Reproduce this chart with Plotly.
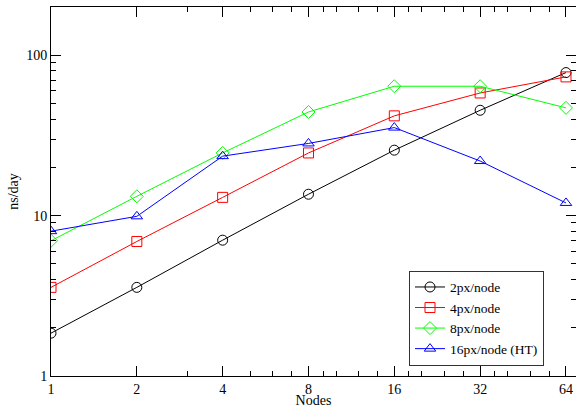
import plotly.graph_objects as go

nodes = [1, 2, 4, 8, 16, 32, 64]
px2 = [1.85, 3.57, 7.03, 13.6, 25.6, 45.4, 78.0]
px4 = [3.57, 6.9, 13.0, 24.6, 41.9, 58.2, 73.3]
px8 = [6.97, 13.2, 24.6, 44.3, 64.1, 64.1, 47.0]
px16 = [8.0, 9.9, 23.5, 28.2, 35.4, 21.9, 12.0]

series = [
    ("2px/node", px2, "black", "circle-open"),
    ("4px/node", px4, "#ff0000", "square-open"),
    ("8px/node", px8, "#00ff00", "diamond-open"),
    ("16px/node (HT)", px16, "#0000ff", "triangle-up-open"),
]

x_major = [1, 2, 4, 8, 16, 32, 64]
x_minor = [3, 5, 6, 7, 9, 10, 12, 14, 18, 20, 24, 28, 36, 40, 48, 56]
y_major = [1, 10, 100]
y_minor = [2, 3, 4, 5, 6, 7, 8, 9, 20, 30, 40, 50, 60, 70, 80, 90]

font = "Liberation Serif"

fig = go.Figure()
for name, vals, color, sym in series:
    fig.add_trace(go.Scatter(
        x=nodes, y=vals, name=name, mode="lines+markers",
        line=dict(color=color, width=1),
        marker=dict(symbol=sym, size=10, color=color, line=dict(color=color, width=1)),
    ))

fig.update_layout(
    width=576, height=408,
    margin=dict(l=51, r=0, t=7, b=32),
    paper_bgcolor="white", plot_bgcolor="white",
    font=dict(family=font, size=14, color="black"),
    showlegend=True,
    legend=dict(
        x=(409 - 51) / 525, y=(376 - 270.7) / 369, xanchor="left", yanchor="top",
        bordercolor="#333333", borderwidth=1, bgcolor="white",
        font=dict(family=font, size=13.5, color="black"),
        tracegroupgap=0,
    ),
    xaxis=dict(
        type="log", range=[0, 1.8413],
        tickvals=x_major, ticktext=[str(v) for v in x_major],
        ticks="inside", ticklen=10, tickwidth=1, tickcolor="black",
        showline=True, linecolor="black", linewidth=1, mirror="ticks",
        showgrid=False, zeroline=False,
        minor=dict(tickmode="array", tickvals=x_minor, ticks="inside", ticklen=5,
                   tickwidth=1, tickcolor="black", showgrid=False),
        title=dict(text="Nodes", font=dict(family=font, size=14), standoff=8),
        automargin=False,
    ),
    yaxis=dict(
        type="log", range=[0, 2.301],
        tickvals=y_major, ticktext=[str(v) for v in y_major],
        ticks="inside", ticklen=10, tickwidth=1, tickcolor="black",
        showline=True, linecolor="black", linewidth=1, mirror="ticks",
        showgrid=False, zeroline=False,
        minor=dict(tickmode="array", tickvals=y_minor, ticks="inside", ticklen=5,
                   tickwidth=1, tickcolor="black", showgrid=False),
        title=dict(text="ns/day", font=dict(family=font, size=14), standoff=4),
        automargin=False,
    ),
)

fig.write_html("out.html", config={"displayModeBar": False},
               post_script="document.body.style.margin='0';")
